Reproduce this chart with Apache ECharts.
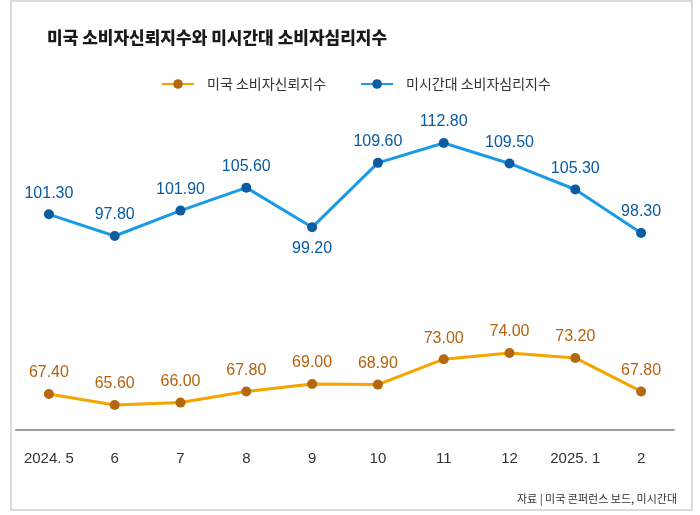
<!DOCTYPE html>
<html>
<head>
<meta charset="utf-8">
<script src="https://cdn.jsdelivr.net/npm/echarts@6/dist/echarts.min.js"></script>
<style>
  html, body { margin: 0; padding: 0; background: #fff; }
  #main { width: 700px; height: 515px; }
</style>
</head>
<body>
<div id="main"></div>
<script>
// 월
var months = ['2024. 5', '6', '7', '8', '9', '10', '11', '12', '2025. 1', '2'];
// 미국 소비자신뢰지수
var confValues = [67.4, 65.6, 66.0, 67.8, 69.0, 68.9, 73.0, 74.0, 73.2, 67.8];
// 미시간대 소비자심리지수
var michValues = [101.3, 97.8, 101.9, 105.6, 99.2, 109.6, 112.8, 109.5, 105.3, 98.3];
var michBelow = [4]; // 아래쪽에 라벨

var numFont = "'Liberation Sans Narrow', 'Liberation Sans', sans-serif";
var krFont = "'Noto Sans CJK KR', sans-serif";

var myChart = echarts.init(document.getElementById('main'));

var michData = michValues.map(function(v, i) {
	if (michBelow.indexOf(i) >= 0) {
		return { value: v, label: { position: 'bottom' } };
	}
	return v;
});

var fmt = function(p) {
	var v = typeof p.value === 'number' ? p.value : p.data.value;
	return v.toFixed(2);
};

var option = {
	backgroundColor: '#fff',
	animation: false,
	title: [{
		text: '미국 소비자신뢰지수와 미시간대 소비자심리지수',
		left: 42,
		top: 24,
		textStyle: { fontFamily: krFont, fontSize: 17, fontWeight: 900, color: '#1a1a1a' }
	}, {
		text: '자료 | 미국 콘퍼런스 보드, 미시간대',
		right: 18,
		top: 488,
		textStyle: { fontFamily: krFont, fontSize: 11, fontWeight: 'normal', color: '#333' }
	}],
	legend: {
		left: 156,
		top: 72,
		itemWidth: 32,
		itemHeight: 12,
		itemGap: 34,
		textStyle: { fontFamily: krFont, fontSize: 14, color: '#333', padding: [0, 0, 0, 8] },
		data: ['미국 소비자신뢰지수', '미시간대 소비자심리지수']
	},
	grid: { left: 16, right: 26, top: 130, bottom: 85 },
	xAxis: {
		type: 'category',
		data: months,
		boundaryGap: true,
		axisLine: { lineStyle: { color: '#a19d9d', width: 2 } },
		axisTick: { show: false },
		axisLabel: { interval: 0, margin: 21, fontFamily: numFont, fontSize: 15, color: '#333' }
	},
	yAxis: [{
		type: 'value', min: 61.58, max: 109.97, show: false
	}, {
		type: 'value', min: 66.51, max: 114.9, show: false
	}],
	series: [{
		name: '미국 소비자신뢰지수',
		type: 'line',
		yAxisIndex: 0,
		data: confValues,
		symbol: 'circle',
		symbolSize: 10,
		lineStyle: { color: '#f6a400', width: 3 },
		itemStyle: { color: '#b4680f' },
		label: {
			show: true, position: 'top', distance: 8,
			fontFamily: numFont, fontSize: 16, color: '#b5620f',
			formatter: fmt
		}
	}, {
		name: '미시간대 소비자심리지수',
		type: 'line',
		yAxisIndex: 1,
		data: michData,
		symbol: 'circle',
		symbolSize: 10,
		lineStyle: { color: '#1b9be6', width: 3 },
		itemStyle: { color: '#0b5ca3' },
		label: {
			show: true, position: 'top', distance: 8,
			fontFamily: numFont, fontSize: 16, color: '#0a5aa0',
			formatter: fmt
		}
	}],
	graphic: [{
		type: 'rect',
		silent: true,
		shape: { x: 11, y: 1, width: 681, height: 509 },
		style: { fill: 'none', stroke: '#cfcfcf', lineWidth: 1.5 }
	}]
};

myChart.setOption(option);
</script>
</body>
</html>
